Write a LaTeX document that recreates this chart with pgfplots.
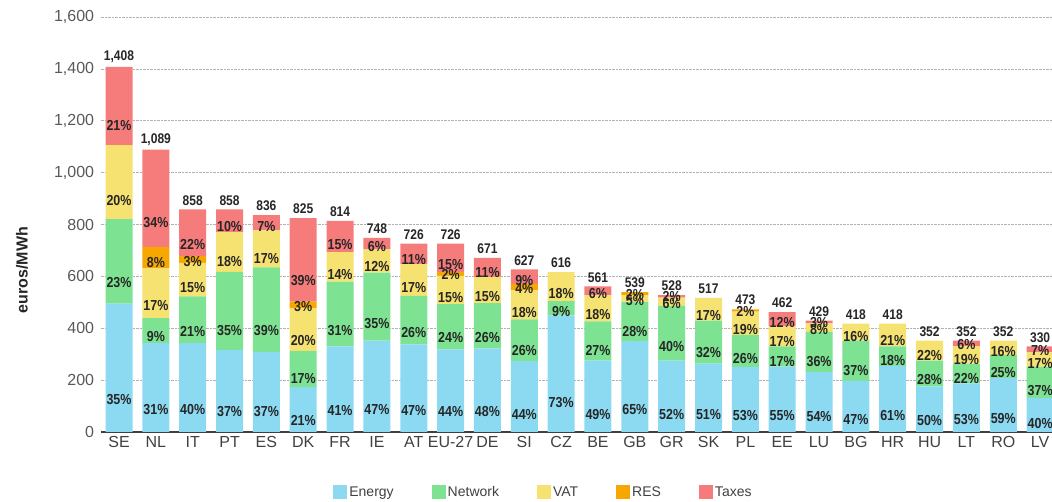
\documentclass[border=0pt]{standalone}
\usepackage{fontspec}
\setmainfont{Liberation Sans}
\newfontfamily\narrow[FakeStretch=0.86]{Liberation Sans}
\usepackage{pgfplots}
\usepackage{pgfplotstable}
\pgfplotsset{compat=1.18}
\definecolor{cE}{RGB}{140,217,242}
\definecolor{cN}{RGB}{125,226,145}
\definecolor{cV}{RGB}{246,226,112}
\definecolor{cR}{RGB}{247,168,0}
\definecolor{cT}{RGB}{246,124,124}
\pgfplotstableread{
x E El N Nl V Vl R Rl T Tl tot totl
0 495 35\% 326 23\% 285 20\% 0 {} 302 21\% 1408 1,408
1 343 31\% 96 9\% 193 17\% 81 8\% 376 34\% 1089 1,089
2 343 40\% 180 21\% 129 15\% 26 3\% 180 22\% 858 858
3 317 37\% 300 35\% 154 18\% 0 {} 87 10\% 858 858
4 309 37\% 326 39\% 142 17\% 0 {} 59 7\% 836 836
5 173 21\% 140 17\% 165 20\% 25 3\% 322 39\% 825 825
6 330 41\% 250 31\% 113 14\% 0 {} 121 15\% 814 814
7 352 47\% 262 35\% 90 12\% 0 {} 44 6\% 748 748
8 338 47\% 187 26\% 122 17\% 0 {} 79 11\% 726 726
9 319 44\% 174 24\% 109 15\% 15 2\% 109 15\% 726 726
10 322 48\% 175 26\% 101 15\% 0 {} 73 11\% 671 671
11 273 44\% 161 26\% 112 18\% 25 4\% 56 9\% 627 627
12 450 73\% 55 9\% 111 18\% 0 {} 0 {} 616 616
13 275 49\% 151 27\% 101 18\% 0 {} 34 6\% 561 561
14 350 65\% 151 28\% 27 5\% 11 2\% 0 {} 539 539
15 275 52\% 211 40\% 32 6\% 0 {} 10 2\% 528 528
16 264 51\% 165 32\% 88 17\% 0 {} 0 {} 517 517
17 251 53\% 123 26\% 90 19\% 9 2\% 0 {} 473 473
18 252 55\% 78 17\% 77 17\% 0 {} 55 12\% 462 462
19 232 54\% 154 36\% 33 8\% 0 {} 10 3\% 429 429
20 197 47\% 155 37\% 66 16\% 0 {} 0 {} 418 418
21 255 61\% 75 18\% 88 21\% 0 {} 0 {} 418 418
22 176 50\% 99 28\% 77 22\% 0 {} 0 {} 352 352
23 187 53\% 77 22\% 67 19\% 0 {} 21 6\% 352 352
24 208 59\% 88 25\% 56 16\% 0 {} 0 {} 352 352
25 131 40\% 121 37\% 55 17\% 0 {} 23 7\% 330 330
}\datatable
\pgfplotsset{
  seg/.style={
    draw=none, fill=#1,
    nodes near coords,
    point meta=explicit symbolic,
    visualization depends on={rawy \as \segh},
    every node near coord/.style={anchor=center, font=\narrow\bfseries\fontsize{14.5}{14.5}\selectfont, text=black!85, inner sep=0pt, yshift={-0.06484375*\segh*1pt}},
  },
  common/.style={
    at={(100.6pt,70pt)}, anchor=south west,
    scale only axis, width=952.4pt, height=415pt,
    bar width=27pt,
    xmin=-0.5, xmax=25.35, ymin=0, ymax=1600,
    clip=false,
  },
}
\begin{document}
\begin{tikzpicture}
\begin{axis}[
  common,
  ybar stacked,
  axis x line*=bottom, axis y line*=left,
  x axis line style={black!75, line width=1.1pt},
  y axis line style={draw=none},
  major tick length=0pt,
  xtick={0,...,25},
  xticklabels={SE,NL,IT,PT,ES,DK,FR,IE,AT,EU-27,DE,SI,CZ,BE,GB,GR,SK,PL,EE,LU,BG,HR,HU,LT,RO,LV},
  xticklabel style={font=\fontsize{16}{16}\selectfont, text=black!75, yshift=-0.5pt},
  ytick={0,200,...,1600},
  yticklabel style={font=\fontsize{16}{16}\selectfont, text=black!65, xshift=-3pt},
  /pgf/number format/assume math mode=true,
  /pgf/number format/1000 sep={,},
  ymajorgrids, major grid style={densely dotted, black!30, line width=0.6pt},
  legend columns=5,
  legend style={at={(0.465,-0.1446)}, anchor=center, draw=none, fill=none,
    font=\fontsize{14}{16}\selectfont, text=black!75,
    /tikz/every even column/.append style={column sep=36pt}},
  legend image code/.code={\fill[#1] (0pt,-7pt) rectangle (14pt,7pt);},
]
\addplot[seg=cE] table[x=x, y=E, meta=El] {\datatable};
\addlegendentry{Energy}
\addplot[seg=cN] table[x=x, y=N, meta=Nl] {\datatable};
\addlegendentry{Network}
\addplot[seg=cV] table[x=x, y=V, meta=Vl] {\datatable};
\addlegendentry{VAT}
\addplot[seg=cR] table[x=x, y=R, meta=Rl] {\datatable};
\addlegendentry{RES}
\addplot[seg=cT] table[x=x, y=T, meta=Tl] {\datatable};
\addlegendentry{Taxes}
\end{axis}
\begin{axis}[common, ybar, hide axis]
\addplot[draw=none, fill=none, nodes near coords, point meta=explicit symbolic,
  every node near coord/.style={anchor=south, font=\narrow\bfseries\fontsize{14}{14}\selectfont, text=black!85, inner sep=0pt, yshift=4pt}]
  table[x=x, y=tot, meta=totl] {\datatable};
\end{axis}
\node[rotate=90, font=\bfseries\fontsize{16}{16}\selectfont, text=black!85] at (22pt,232pt) {euros/MWh};
\pgfresetboundingbox
\useasboundingbox (0,0) rectangle (1052pt,502pt);
\end{tikzpicture}
\end{document}
